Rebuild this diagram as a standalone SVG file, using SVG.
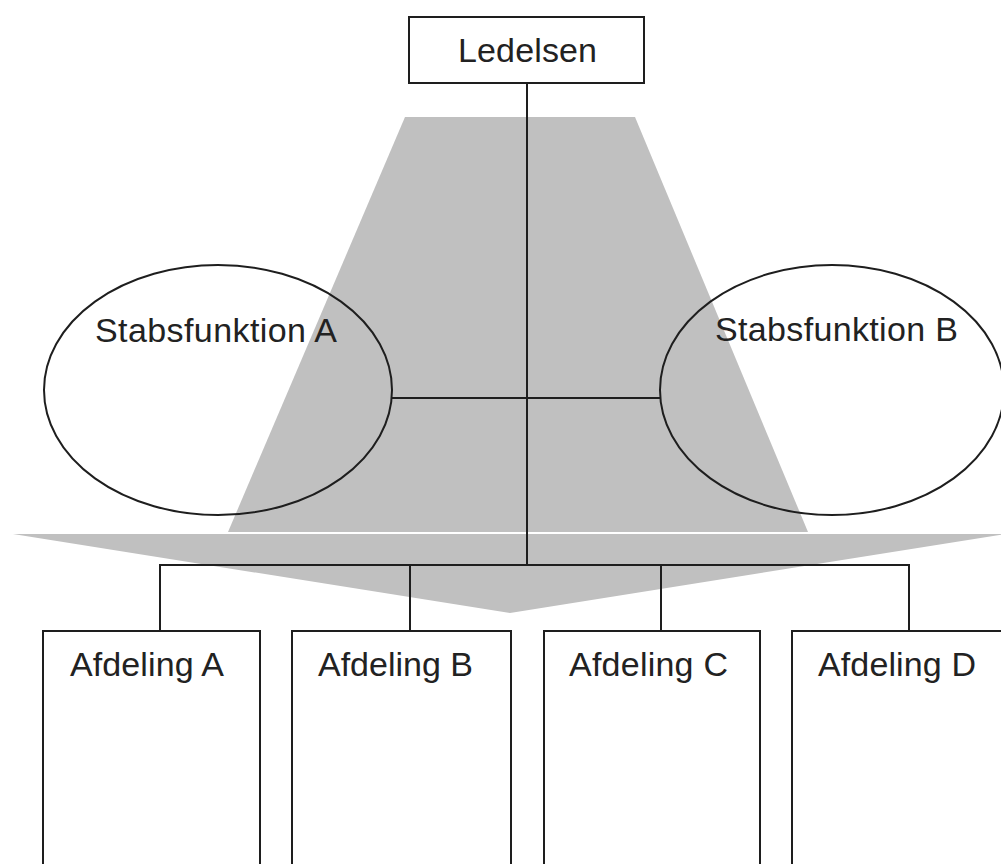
<svg xmlns="http://www.w3.org/2000/svg" width="1001" height="864" viewBox="0 0 1001 864">
<style>
.shade{fill:#c0c0c0;stroke:none}
.box{fill:#ffffff;stroke:#1e1e1e;stroke-width:2}
.oval{fill:none;stroke:#1e1e1e;stroke-width:2}
.conn{fill:none;stroke:#1e1e1e;stroke-width:2}
.lbl{font-family:"Liberation Sans",Arial,sans-serif;font-size:34px;fill:#222222}
</style>
<rect width="1001" height="864" fill="#ffffff"/>
<g id="background">
<polygon class="shade" points="405,117 635,117 808,532 228,532"/>
<polygon class="shade" points="13,534 1005,534 510,613"/>
</g>
<g id="connectors">
<line class="conn" x1="527" y1="83" x2="527" y2="565"/>
<line class="conn" x1="392" y1="398" x2="660" y2="398"/>
<line class="conn" x1="160" y1="565" x2="909" y2="565"/>
<line class="conn" x1="160" y1="564" x2="160" y2="631"/>
<line class="conn" x1="410" y1="565" x2="410" y2="631"/>
<line class="conn" x1="661" y1="565" x2="661" y2="631"/>
<line class="conn" x1="909" y1="564" x2="909" y2="631"/>
</g>
<g id="ledelsen">
<rect class="box" x="409" y="17" width="235" height="66"/>
<text class="lbl" x="458" y="62" textLength="139">Ledelsen</text>
</g>
<g id="stabsfunktion-a">
<ellipse class="oval" cx="218" cy="390" rx="174" ry="125"/>
<text class="lbl" x="95" y="342" textLength="242">Stabsfunktion A</text>
</g>
<g id="stabsfunktion-b">
<ellipse class="oval" cx="832" cy="390" rx="172" ry="125"/>
<text class="lbl" x="715" y="341" textLength="243">Stabsfunktion B</text>
</g>
<g id="afdeling-a">
<rect class="box" x="43" y="631" width="217" height="245"/>
<text class="lbl" x="70" y="676" textLength="154">Afdeling A</text>
</g>
<g id="afdeling-b">
<rect class="box" x="292" y="631" width="219" height="245"/>
<text class="lbl" x="318" y="676" textLength="155">Afdeling B</text>
</g>
<g id="afdeling-c">
<rect class="box" x="544" y="631" width="216" height="245"/>
<text class="lbl" x="569" y="676" textLength="159">Afdeling C</text>
</g>
<g id="afdeling-d">
<rect class="box" x="792" y="631" width="222" height="245"/>
<text class="lbl" x="818" y="676" textLength="158">Afdeling D</text>
</g>
</svg>
